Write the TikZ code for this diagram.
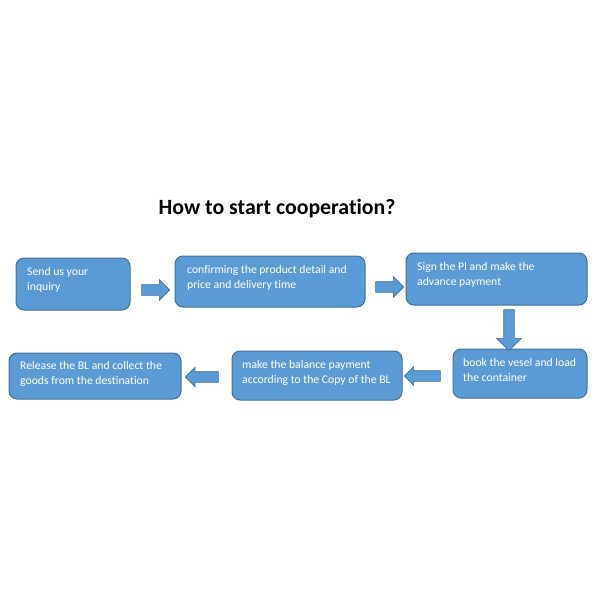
\documentclass[tikz,border=0pt]{standalone}
\usepackage{fontspec}
\setmainfont{Carlito}[Ligatures=NoCommon]
\usetikzlibrary{shapes.arrows}
\definecolor{boxfill}{HTML}{5B9BD5}
\definecolor{boxline}{HTML}{41719C}
\tikzset{
  box/.style={draw=boxline, line width=1pt, fill=boxfill, rounded corners=8pt, inner sep=0pt},
  boxtext/.style={anchor=base west, inner sep=0pt, text=white, align=left, font=\fontsize{11.7}{14.5}\selectfont},
  blockarrow/.style={single arrow, draw=boxline, line width=0.6pt, fill=boxfill, inner xsep=0pt,
    inner ysep=5pt, minimum width=20pt, single arrow head extend=5pt, single arrow tip angle=90}
}
\begin{document}
\begin{tikzpicture}[x=1pt,y=-1pt]
\useasboundingbox (0,0) rectangle (600,600);
\node[anchor=base, font=\fontsize{21.8}{24}\selectfont\bfseries] (title) at (277,214) {How to start cooperat\kern0pt ion?};

\draw[box] (16,258) rectangle (130,310);
\node[boxtext] (t1) at (27,290) {Send us your\\inquiry};

\draw[box] (175,256) rectangle (365,307);
\node[boxtext] (t2) at (187,288) {confirming the product detail and\\price and delivery time};

\draw[box] (406,253) rectangle (587,305);
\node[boxtext] (t3) at (417,285) {Sign the PI and make the\\advance payment};

\draw[box] (453,349) rectangle (587,398);
\node[boxtext] (t4) at (463,381) {book the vesel and load\\the container};

\draw[box] (232,351) rectangle (402,400);
\node[boxtext] (t5) at (242,383) {make the balance payment\\according to the Copy of the BL};

\draw[box] (9,353) rectangle (181,399);
\node[boxtext] (t6) at (20,384) {Release the BL and collect the\\goods from the destination};

\node[blockarrow, minimum height=28pt] (a1) at (153,290) {};
\node[blockarrow, minimum height=28pt] (a2) at (387,287) {};
\node[blockarrow, minimum height=41pt, minimum width=24pt, single arrow head extend=7pt, rotate=-90] (a3) at (509,327.5) {};
\node[blockarrow, minimum height=36pt, minimum width=18pt, single arrow head extend=4pt, rotate=180] (a4) at (425,376) {};
\node[blockarrow, minimum height=33pt, minimum width=19pt, single arrow head extend=4.5pt, rotate=180] (a5) at (204.5,377) {};
\end{tikzpicture}
\end{document}
